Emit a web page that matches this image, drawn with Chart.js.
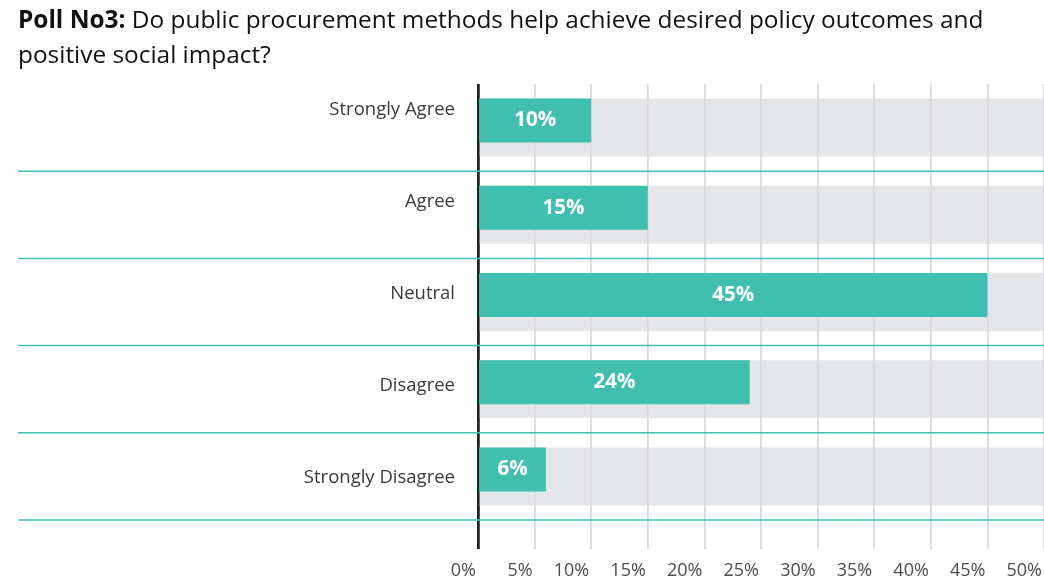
<!DOCTYPE html>
<html><head><meta charset="utf-8">
<script src="https://cdn.jsdelivr.net/npm/chart.js@4.4.1/dist/chart.umd.min.js"></script>
<style>
html,body{margin:0;padding:0;background:#fff;}
#wrap{position:relative;width:1044px;height:585px;overflow:hidden;}
#title{position:absolute;left:18px;top:1px;font-family:"Open Sans",sans-serif;font-size:24.4px;line-height:35px;color:#111;white-space:nowrap;}
#title b{font-weight:700;}
canvas{position:absolute;left:0;top:0;}
</style></head><body>
<div id="wrap"><canvas id="c" width="1044" height="585"></canvas>
<div id="title"><b>Poll No3:</b> Do public procurement methods help achieve desired policy outcomes and<br>positive social impact?</div></div>
<script>
const categories = ['Strongly Agree', 'Agree', 'Neutral', 'Disagree', 'Strongly Disagree'];
const shareValues = [10, 15, 45, 24, 6];
const trackValues = [50, 50, 50, 50, 50];
const xTickValues = [0, 5, 10, 15, 20, 25, 30, 35, 40, 45, 50];
const xTickLabels = ['0%', '5%', '10%', '15%', '20%', '25%', '30%', '35%', '40%', '45%', '50%'];

const TEAL = '#40BFB1';
const TRACK = '#E5E6E8';
const FONT = '"Open Sans", sans-serif';
const LABEL_MIN = -0.2826;
const LABEL_MAX = 4.4565;

const valueLabelPlugin = {
  id: 'valueLabels',
  afterDatasetsDraw(chart) {
    const meta = chart.getDatasetMeta(0);
    const ctx = chart.ctx;
    ctx.save();
    ctx.fillStyle = '#ffffff';
    ctx.font = 'bold 20.5px ' + FONT;
    ctx.textAlign = 'center';
    ctx.textBaseline = 'middle';
    meta.data.forEach((bar, i) => {
      ctx.fillText(shareValues[i] + '%', (bar.x + bar.base) / 2, bar.y);
    });
    ctx.restore();
  }
};

const gridOverTrackPlugin = {
  id: 'gridOverTrack',
  afterDatasetDraw(chart, args) {
    if (args.index === 2) {
      chart.scales.x.drawGrid(chart.chartArea);
    }
  }
};

const separatorPlugin = {
  id: 'separators',
  afterDatasetsDraw(chart) {
    const y = chart.scales.y;
    const step = y.getPixelForValue(1) - y.getPixelForValue(0);
    const ctx = chart.ctx;
    ctx.save();
    ctx.strokeStyle = TEAL;
    ctx.lineWidth = 1.5;
    categories.forEach((c, i) => {
      const py = y.getPixelForValue(i) + step / 2;
      ctx.beginPath();
      ctx.moveTo(18, py);
      ctx.lineTo(chart.chartArea.right, py);
      ctx.stroke();
    });
    ctx.restore();
  }
};

new Chart(document.getElementById('c'), {
  type: 'bar',
  data: {
    labels: categories,
    datasets: [
      { label: 'Share', data: shareValues, backgroundColor: TEAL, grouped: true,
        categoryPercentage: 28 / 87.2, barPercentage: 44 / 14, yAxisID: 'y' },
      { label: 'spacer', data: categories.map(() => null), backgroundColor: 'rgba(0,0,0,0)', grouped: true,
        categoryPercentage: 28 / 87.2, barPercentage: 44 / 14, yAxisID: 'y' },
      { label: 'Track', data: trackValues, backgroundColor: TRACK, grouped: false,
        categoryPercentage: 1, barPercentage: 58 / 87.2, yAxisID: 'y' }
    ]
  },
  options: {
    indexAxis: 'y',
    responsive: false,
    animation: false,
    devicePixelRatio: 1,
    layout: { padding: { top: 84, left: 0, right: 0, bottom: 0 } },
    plugins: { legend: { display: false }, tooltip: { enabled: false }, title: { display: false } },
    scales: {
      x: {
        type: 'linear', position: 'bottom', min: 0, max: 50,
        afterBuildTicks: (s) => { s.ticks = xTickValues.map(v => ({ value: v })); },
        afterFit: (s) => { s.height = 65; s.paddingLeft = 0; s.paddingRight = 0; },
        border: { display: false },
        grid: {
          color: (c) => (c.tick && c.tick.value === 0) ? '#231F20' : '#D9D9DB',
          lineWidth: (c) => (c.tick && c.tick.value === 0) ? 2.5 : 1.5,
          drawTicks: true, tickLength: 29
        },
        ticks: {
          align: 'end', labelOffset: -2, padding: 11, color: '#4d4d4d',
          font: { family: FONT, size: 18 },
          callback: (v) => xTickLabels[xTickValues.indexOf(v)]
        }
      },
      y: { type: 'category', display: false, offset: true },
      yLabels: {
        type: 'linear', position: 'left', reverse: true, offset: false,
        min: LABEL_MIN, max: LABEL_MAX,
        afterBuildTicks: (s) => { s.ticks = categories.map((c, i) => ({ value: i })); },
        afterFit: (s) => { s.width = 478; },
        grid: { display: false, drawTicks: false, offset: false }, border: { display: false },
        ticks: {
          padding: 23, color: '#3a3a3a', font: { family: FONT, size: 18.5 },
          callback: (v) => categories[v]
        }
      }
    }
  },
  plugins: [valueLabelPlugin, gridOverTrackPlugin, separatorPlugin]
});
</script>
</body></html>
